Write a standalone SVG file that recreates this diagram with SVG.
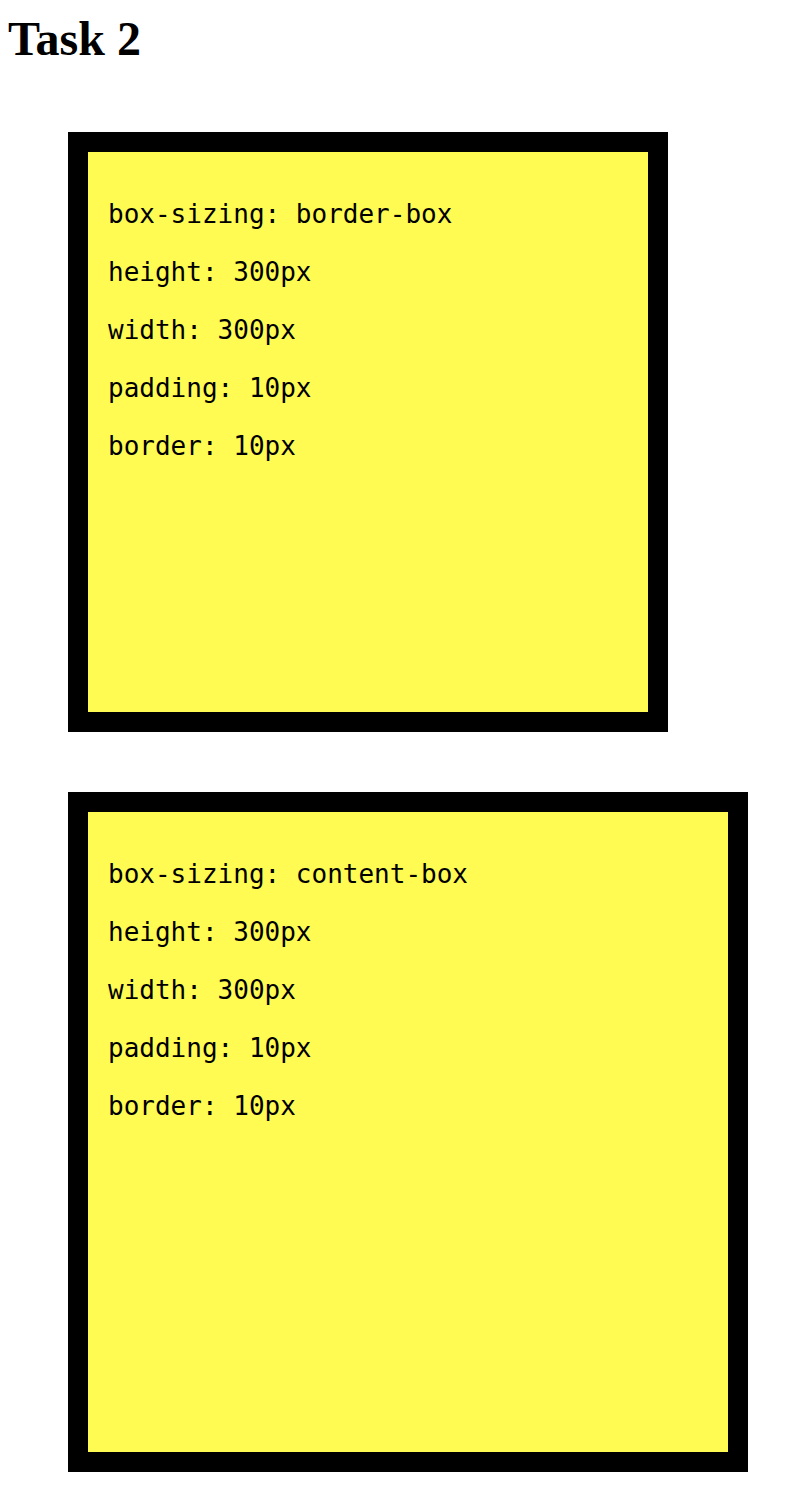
<svg xmlns="http://www.w3.org/2000/svg" width="790" height="1506" viewBox="0 0 790 1506">
<style>
.title{font-family:"Liberation Serif","Times New Roman",serif;font-weight:bold;font-size:48px;fill:#000}
.box{fill:#fffb52;stroke:#000;stroke-width:20}
.t{font-family:"DejaVu Sans Mono","Liberation Mono",monospace;font-size:26px;fill:#000}
</style>
<rect width="790" height="1506" fill="#fff"/>
<text class="title" x="8" y="55">Task 2</text>
<g id="box1">
<rect class="box" x="78" y="142" width="580" height="580"/>
<text class="t" x="108" y="223">box-sizing: border-box</text>
<text class="t" x="108" y="281">height: 300px</text>
<text class="t" x="108" y="339">width: 300px</text>
<text class="t" x="108" y="397">padding: 10px</text>
<text class="t" x="108" y="455">border: 10px</text>
</g>
<g id="box2">
<rect class="box" x="78" y="802" width="660" height="660"/>
<text class="t" x="108" y="883">box-sizing: content-box</text>
<text class="t" x="108" y="941">height: 300px</text>
<text class="t" x="108" y="999">width: 300px</text>
<text class="t" x="108" y="1057">padding: 10px</text>
<text class="t" x="108" y="1115">border: 10px</text>
</g>
<g id="connectors"/>
</svg>
